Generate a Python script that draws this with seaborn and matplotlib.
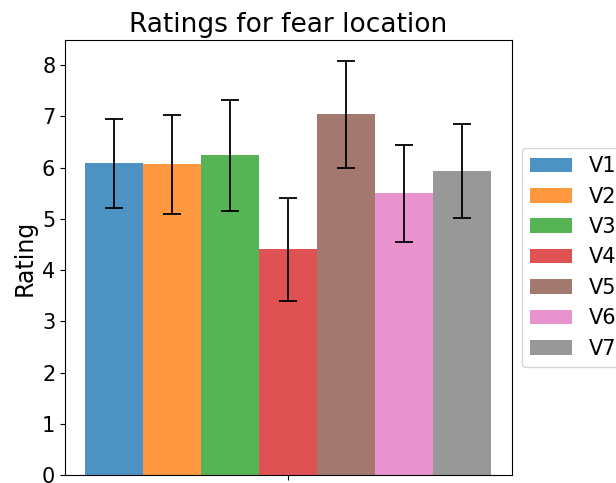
import matplotlib
matplotlib.use("Agg")
import matplotlib.pyplot as plt
import seaborn as sns
import pandas as pd

# Data
labels = ["V1", "V2", "V3", "V4", "V5", "V6", "V7"]
means = [6.09, 6.07, 6.24, 4.41, 7.05, 5.51, 5.94]
err_low = [0.88, 0.98, 1.09, 1.02, 1.05, 0.96, 0.92]
err_high = [0.86, 0.95, 1.08, 1.00, 1.03, 0.94, 0.92]
group = ["fear location"] * len(labels)

df = pd.DataFrame({"group": group, "V": labels, "rating": means})

fig, ax = plt.subplots(figsize=(6.16, 4.83), dpi=100)
fig.subplots_adjust(left=0.1055, right=0.8307, bottom=0.0166, top=0.9172)

tab = sns.color_palette("tab10", 10)
palette = [tab[i] for i in (0, 1, 2, 3, 5, 6, 7)]
sns.barplot(data=df, x="group", y="rating", hue="V", hue_order=labels,
            palette=palette, alpha=0.8, saturation=1, errorbar=None, width=0.8,
            linewidth=0, ax=ax)

# error bars at the centres of seaborn's bars
patches = sorted([p for p in ax.patches if p.get_width() > 0 and p.get_height() > 0],
                 key=lambda p: p.get_x())
xs = [p.get_x() + p.get_width() / 2 for p in patches]
hs = [p.get_height() for p in patches]
ax.errorbar(xs, hs, yerr=[err_low, err_high], fmt="none", ecolor="black",
            elinewidth=1.3, capsize=6.3, capthick=1.3)

ax.set_xlim(-0.44, 0.44)
ax.set_ylim(0, 8.49)
ax.set_xticks([0])
ax.set_xticklabels([""])
ax.set_xlabel("")
ax.set_ylabel("Rating", fontsize=17)
ax.set_title("Ratings for fear location", fontsize=19)
ax.tick_params(axis="y", labelsize=15)

handles, lbls = ax.get_legend_handles_labels()
ax.legend(handles, lbls, loc="center left", bbox_to_anchor=(1.0, 0.5), fontsize=15)

fig.savefig("out.png", dpi=100)
